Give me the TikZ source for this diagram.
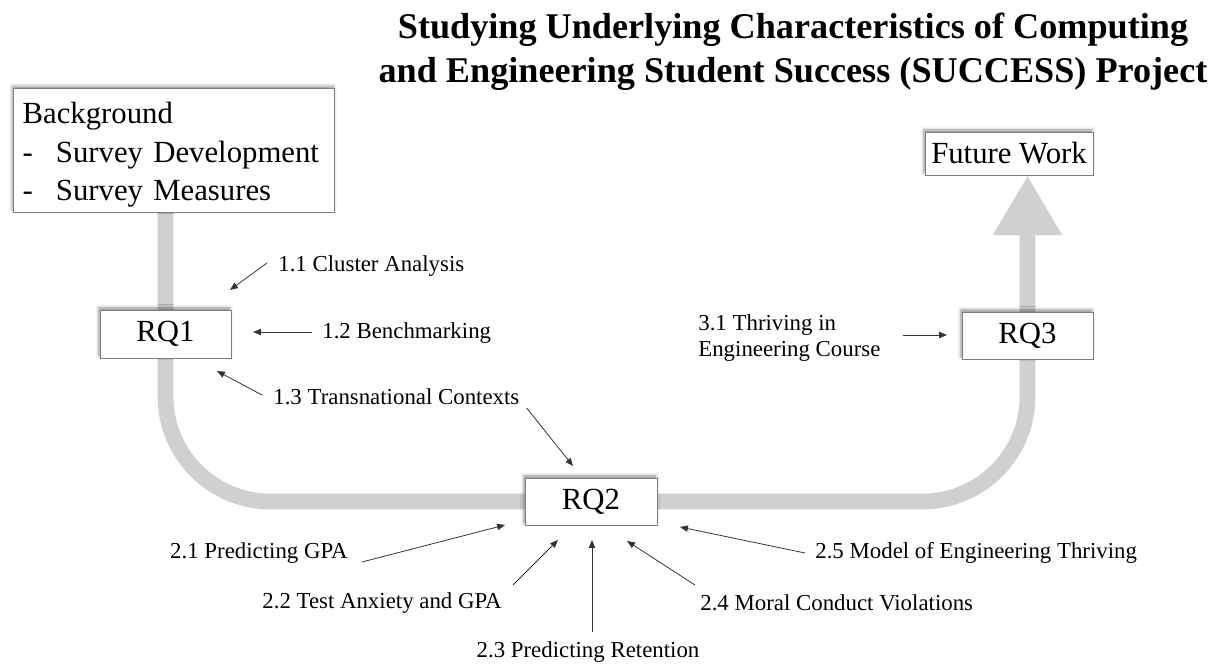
\documentclass[tikz,border=0pt]{standalone}
\usepackage{fontspec}
\setmainfont{Liberation Serif}
\usetikzlibrary{arrows.meta}
\usetikzlibrary{shadows.blur}
\usetikzlibrary{backgrounds}
\definecolor{trackgray}{RGB}{208,208,208}
\definecolor{boxline}{RGB}{125,125,125}
\tikzset{box/.style = {draw = boxline, line width = 0.5pt, fill = white,
                       blur shadow = {shadow xshift = -0.6pt, shadow yshift = 1.2pt,
                                      shadow blur steps = 4, shadow opacity = 45},
                       inner sep = 0, font = \fontsize{17.5}{21.8}\selectfont}}
\tikzset{lbl/.style = {inner sep = 0, font = \fontsize{13}{14.3}\selectfont}}
\tikzset{lblarrow/.style = {draw = black!80, line width = 0.45pt,
                            -{Triangle[length = 4.5pt, width = 3.6pt]}}}
\tikzset{track/.style = {draw = trackgray, line width = 9pt, rounded corners = 2.1cm,
                         -{Triangle[length = 34pt, width = 37pt, fill = trackgray]}}}

\begin{document}
\begin{tikzpicture}[x = 0.02cm, y = -0.02cm]
    \useasboundingbox (0, 0) rectangle (1222, 665);

    % title
    \node [align = center, inner sep = 0, font = \bfseries\fontsize{20.6}{25}\selectfont] (title) at (793, 52)
      {Studying Underlying Characteristics of Computing\\
       and Engineering Student Success (SUCCESS) Project};

    % boxes
    \node [box, anchor = north west, minimum width = 6.42cm, minimum height = 2.48cm,
           align = left, text width = 6.05cm] (bg) at (13, 88)
      {\rule{0pt}{17pt}Background\\
       -\hspace{0.75em}Survey Development\\
       -\hspace{0.75em}Survey Measures};
    \node [box, minimum width = 2.62cm, minimum height = 0.96cm] (rq1) at (165.5, 334) {RQ1};
    \node [box, minimum width = 2.64cm, minimum height = 0.94cm] (rq2) at (591, 501.5) {RQ2};
    \node [box, minimum width = 2.62cm, minimum height = 0.94cm] (rq3) at (1027.5, 335.5) {RQ3};
    \node [box, minimum width = 3.36cm, minimum height = 0.86cm] (fw) at (1009, 153.5) {Future Work};

    % the track behind the boxes
    \begin{scope}[on background layer]
      \draw [track] (bg.south -| rq1) |- (rq2) -| (rq3 |- fw.south);
    \end{scope}

    % labels
    \node [lbl, anchor = west] (c11) at (278, 266) {1.1 Cluster Analysis};
    \node [lbl, anchor = west] (c12) at (322, 333) {1.2 Benchmarking};
    \node [lbl, anchor = west] (c13) at (273, 397) {1.3 Transnational Contexts};
    \node [lbl, anchor = east] (c21) at (348, 553) {2.1 Predicting GPA};
    \node [lbl, anchor = east] (c22) at (502, 603) {2.2 Test Anxiety and GPA};
    \node [lbl] (c23) at (588, 652) {2.3 Predicting Retention};
    \node [lbl, anchor = west] (c24) at (700, 603) {2.4 Moral Conduct Violations};
    \node [lbl, anchor = west] (c25) at (815, 553) {2.5 Model of Engineering Thriving};
    \node [lbl, anchor = west, align = left] (c31) at (698, 338)
      {3.1 Thriving in\\ Engineering Course};

    % arrow tips
    \coordinate (t11) at (230, 290);
    \coordinate (t12) at (253, 332);
    \coordinate (t13) at (217, 371);
    \coordinate (t13b) at (573, 466);
    \coordinate (t21) at (505, 525);
    \coordinate (t22) at (558, 540);
    \coordinate (t23) at (592, 540);
    \coordinate (t24) at (627, 541);
    \coordinate (t25) at (680, 527);
    \coordinate (t31) at (947, 335);

    \draw [lblarrow] (c11.west) ++(-11, -3) -- (t11);
    \draw [lblarrow] (c12.west) ++(-10, -1) -- (t12);
    \draw [lblarrow] (c13.west) ++(-11, -2) -- (t13);
    \draw [lblarrow] (c13.east) ++(7, 11) -- (t13b);
    \draw [lblarrow] (c21.east) ++(14, 9) -- (t21);
    \draw [lblarrow] (c22.east) ++(11, -18) -- (t22);
    \draw [lblarrow] (c23.north) ++(4, -9) -- (t23);
    \draw [lblarrow] (c24.west) ++(-5, -18) -- (t24);
    \draw [lblarrow] (c25.west) ++(-10, 0) -- (t25);
    \draw [lblarrow] (c31.east) ++(22, -3) -- (t31);
  \end{tikzpicture}
\end{document}
